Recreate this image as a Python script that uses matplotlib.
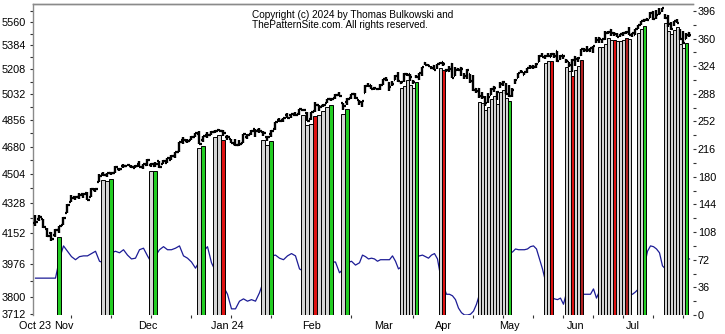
import numpy as np
import pandas as pd
import matplotlib
matplotlib.use('Agg')
import matplotlib.pyplot as plt
from matplotlib.ticker import FixedLocator, NullFormatter, StrMethodFormatter

plt.rcParams['font.family'] = ['Liberation Sans', 'DejaVu Sans']

# trading calendar, Oct 23 2023 .. Jul 29 2024
holidays = ['2023-11-23', '2023-12-25', '2024-01-01', '2024-01-15', '2024-02-19',
            '2024-03-29', '2024-05-27', '2024-06-19', '2024-07-04']
days = pd.bdate_range('2023-10-23', '2024-07-29', freq='C', holidays=holidays)

# daily OHLC
opens = [4210, 4235, 4232, 4175, 4153, 4140, 4172,
         4201, 4268, 4334, 4365, 4366, 4385, 4391, 4365, 4406, 4458, 4505, 4497, 4510, 4511, 4539, 4554, 4555, 4555, 4546, 4571, 4548,
         4559, 4565, 4557, 4586, 4568, 4576, 4593, 4618, 4646, 4722, 4714, 4725, 4744, 4764, 4724, 4754, 4758, 4773, 4786, 4782,
         4745, 4726, 4697, 4690, 4703, 4741, 4759, 4793, 4791, 4772, 4739, 4760, 4796, 4853, 4856, 4888, 4886, 4888, 4892, 4925, 4899,
         4862, 4916, 4957, 4951, 4973, 4995, 5004, 5026, 4968, 4977, 5004, 5031, 4989, 4964, 5039, 5094, 5093, 5074, 5067, 5086,
         5098, 5131, 5110, 5109, 5132, 5164, 5111, 5134, 5174, 5176, 5124, 5154, 5140, 5182, 5254, 5242, 5219, 5228, 5226, 5248,
         5257, 5204, 5194, 5244, 5159, 5211, 5217, 5159, 5173, 5171, 5150, 5065, 5068, 5031, 5005, 4988, 5029, 5085, 5019, 5085, 5114, 5103,
         5030, 5049, 5123, 5142, 5188, 5168, 5190, 5225, 5233, 5221, 5264, 5310, 5303, 5305, 5298, 5319, 5340, 5282, 5315, 5278, 5259, 5244,
         5297, 5278, 5314, 5357, 5343, 5341, 5353, 5410, 5441, 5424, 5431, 5477, 5499, 5474, 5460, 5461, 5461, 5473, 5488,
         5471, 5461, 5507, 5537, 5573, 5584, 5591, 5635, 5591, 5638, 5644, 5610, 5608, 5544, 5544, 5566, 5506, 5428, 5434, 5477]
highs = [4256, 4259, 4233, 4183, 4156, 4177, 4195,
         4245, 4320, 4374, 4372, 4386, 4391, 4393, 4418, 4421, 4503, 4521, 4511, 4521, 4557, 4542, 4569, 4560, 4562, 4562, 4587, 4570,
         4599, 4575, 4578, 4590, 4591, 4609, 4623, 4643, 4709, 4739, 4726, 4749, 4769, 4779, 4748, 4772, 4784, 4785, 4793, 4788,
         4755, 4730, 4727, 4721, 4764, 4765, 4790, 4798, 4802, 4783, 4745, 4785, 4842, 4868, 4866, 4903, 4898, 4907, 4929, 4932, 4906,
         4906, 4975, 4958, 4964, 4999, 5001, 5031, 5049, 4970, 5002, 5033, 5039, 4994, 4984, 5094, 5112, 5098, 5081, 5077, 5105,
         5141, 5149, 5114, 5127, 5165, 5190, 5125, 5179, 5180, 5176, 5128, 5170, 5180, 5225, 5261, 5246, 5229, 5236, 5249, 5264,
         5263, 5208, 5229, 5256, 5223, 5219, 5225, 5178, 5211, 5175, 5168, 5076, 5077, 5046, 5019, 5038, 5076, 5089, 5057, 5114, 5123, 5110,
         5096, 5073, 5139, 5181, 5200, 5191, 5215, 5239, 5237, 5250, 5311, 5325, 5305, 5325, 5324, 5323, 5341, 5311, 5315, 5282, 5261, 5280,
         5302, 5298, 5355, 5362, 5376, 5365, 5376, 5447, 5442, 5432, 5488, 5490, 5505, 5484, 5479, 5472, 5483, 5490, 5524,
         5479, 5510, 5540, 5571, 5583, 5591, 5636, 5642, 5655, 5666, 5670, 5622, 5615, 5556, 5570, 5586, 5508, 5491, 5479, 5487]
lows = [4190, 4220, 4181, 4127, 4104, 4132, 4153,
        4197, 4268, 4334, 4347, 4355, 4360, 4344, 4362, 4393, 4458, 4495, 4488, 4500, 4510, 4526, 4546, 4553, 4546, 4540, 4547, 4538,
        4554, 4547, 4551, 4546, 4566, 4575, 4594, 4608, 4643, 4695, 4702, 4721, 4743, 4697, 4708, 4737, 4758, 4768, 4780, 4751,
        4722, 4700, 4682, 4682, 4700, 4730, 4757, 4740, 4768, 4748, 4715, 4740, 4786, 4844, 4844, 4865, 4869, 4881, 4887, 4917, 4845,
        4853, 4907, 4919, 4940, 4970, 4987, 4999, 5017, 4920, 4956, 4999, 4999, 4955, 4946, 5039, 5081, 5068, 5058, 5058, 5062,
        5095, 5127, 5057, 5091, 5128, 5117, 5100, 5114, 5161, 5123, 5105, 5148, 5131, 5161, 5240, 5229, 5216, 5203, 5209, 5246,
        5230, 5185, 5191, 5146, 5157, 5197, 5160, 5138, 5138, 5107, 5052, 5039, 5007, 4999, 4953, 4970, 5028, 5047, 4990, 5073, 5089, 5035,
        5013, 5011, 5101, 5142, 5178, 5165, 5183, 5209, 5211, 5214, 5263, 5297, 5284, 5299, 5297, 5287, 5257, 5278, 5280, 5250, 5222, 5191,
        5234, 5257, 5303, 5335, 5331, 5331, 5328, 5404, 5403, 5403, 5421, 5470, 5455, 5452, 5448, 5446, 5451, 5467, 5460,
        5446, 5458, 5507, 5533, 5562, 5565, 5587, 5572, 5583, 5614, 5637, 5584, 5523, 5497, 5529, 5551, 5424, 5390, 5434, 5444]
closes = [4217, 4248, 4186, 4137, 4117, 4167, 4194,
          4238, 4318, 4358, 4366, 4378, 4383, 4347, 4415, 4412, 4496, 4502, 4509, 4514, 4547, 4538, 4556, 4559, 4550, 4555, 4551, 4568,
          4595, 4569, 4567, 4549, 4586, 4604, 4622, 4644, 4707, 4720, 4719, 4741, 4768, 4698, 4746, 4755, 4775, 4782, 4783, 4770,
          4743, 4705, 4689, 4697, 4764, 4757, 4783, 4780, 4784, 4766, 4739, 4781, 4840, 4850, 4865, 4869, 4894, 4891, 4928, 4925, 4846,
          4906, 4959, 4943, 4954, 4995, 4998, 5027, 5022, 4953, 5001, 5030, 5006, 4976, 4982, 5087, 5089, 5070, 5078, 5069, 5096,
          5137, 5131, 5079, 5105, 5157, 5124, 5117, 5175, 5165, 5150, 5117, 5149, 5179, 5225, 5241, 5234, 5218, 5204, 5248, 5254,
          5243, 5205, 5211, 5147, 5204, 5202, 5209, 5161, 5200, 5123, 5061, 5051, 5022, 5011, 4967, 5011, 5071, 5072, 5048, 5100, 5116, 5036,
          5018, 5064, 5128, 5181, 5187, 5188, 5214, 5223, 5221, 5247, 5308, 5297, 5303, 5308, 5321, 5307, 5268, 5305, 5306, 5267, 5236, 5278,
          5283, 5291, 5354, 5352, 5347, 5361, 5375, 5421, 5434, 5431, 5473, 5487, 5473, 5465, 5448, 5469, 5478, 5483, 5460,
          5475, 5509, 5537, 5567, 5572, 5577, 5633, 5585, 5615, 5631, 5667, 5589, 5545, 5505, 5564, 5555, 5427, 5399, 5459, 5464]

# indicator line (right scale)
indicator = [48, 48, 48, 48, 48, 48, 73, 90, 83, 76, 72, 76, 77, 77, 80, 83, 70, 68, 73, 81,
             83, 81, 85, 78, 73, 74, 85, 87, 77, 68, 77, 85, 89, 85, 85, 87, 90, 77, 74, 69,
             61, 70, 83, 89, 68, 57, 44, 37, 27, 8, 8, 18, 21, 18, 20, 18, 29, 44, 64, 77,
             78, 74, 72, 77, 80, 77, 60, 57, 55, 60, 63, 65, 67, 68, 69, 69, 55, 60, 68, 70,
             65, 68, 78, 76, 73, 74, 73, 70, 72, 72, 72, 72, 77, 70, 60, 63, 65, 68, 70, 73,
             76, 77, 78, 76, 74, 78, 80, 73, 51, 38, 27, 27, 25, 20, 9, 3, 0, 0, 1, 5,
             14, 27, 38, 44, 51, 57, 63, 68, 73, 77, 80, 81, 82, 86, 85, 85, 85, 86, 89, 90,
             86, 73, 60, 44, 31, 23, 21, 20, 22, 14, 29, 29, 28, 28, 27, 27, 27, 27, 27, 34,
             22, 31, 38, 36, 34, 32, 31, 30, 29, 28, 28, 27, 27, 30, 34, 44, 64, 83, 90, 89,
             86, 81, 64, 60, 58, 56, 58, 62, 66, 70, 72, 73]

# highlighted days: n = neutral, g = green, r = red, d = dark red
mark_dates = ['2023-10-31',
              '2023-11-15', '2023-11-16', '2023-11-17',
              '2023-12-04', '2023-12-05',
              '2023-12-20', '2023-12-21',
              '2023-12-27', '2023-12-28', '2023-12-29',
              '2024-01-16', '2024-01-17', '2024-01-18',
              '2024-01-30', '2024-01-31', '2024-02-01', '2024-02-02', '2024-02-05', '2024-02-06', '2024-02-07', '2024-02-08',
              '2024-02-13', '2024-02-14',
              '2024-03-11', '2024-03-12', '2024-03-13', '2024-03-14', '2024-03-15', '2024-03-18',
              '2024-03-28', '2024-04-01',
              '2024-04-17', '2024-04-18', '2024-04-19', '2024-04-22', '2024-04-23', '2024-04-24', '2024-04-25',
              '2024-04-26', '2024-04-29', '2024-04-30', '2024-05-01',
              '2024-05-17', '2024-05-20', '2024-05-21',
              '2024-05-29', '2024-05-30', '2024-05-31', '2024-06-03', '2024-06-04', '2024-06-05',
              '2024-06-13', '2024-06-14', '2024-06-17', '2024-06-18', '2024-06-20', '2024-06-21', '2024-06-24',
              '2024-06-25', '2024-06-26', '2024-06-27', '2024-06-28',
              '2024-07-03', '2024-07-05', '2024-07-08',
              '2024-07-17', '2024-07-18', '2024-07-19', '2024-07-22', '2024-07-23', '2024-07-24', '2024-07-25', '2024-07-26']
mark_kind = ['g',
             'n', 'n', 'g',
             'n', 'g',
             'n', 'g',
             'n', 'n', 'r',
             'n', 'n', 'g',
             'n', 'n', 'n', 'r', 'n', 'n', 'n', 'g',
             'n', 'g',
             'n', 'n', 'n', 'n', 'n', 'g',
             'n', 'r',
             'n', 'n', 'n', 'n', 'n', 'n', 'n', 'n', 'n', 'n', 'g',
             'n', 'n', 'r',
             'n', 'n', 'r', 'n', 'n', 'd',
             'n', 'n', 'n', 'n', 'n', 'r', 'n', 'n', 'n', 'd', 'n',
             'n', 'n', 'g',
             'n', 'n', 'n', 'n', 'n', 'n', 'n', 'g']
kind_colors = {'n': '#d4d4d4', 'g': '#22cc22', 'r': '#dd1111', 'd': '#b22222'}

x = np.arange(len(days))
lows_a = np.array(lows, float)


# 4 px per session up to Feb 20, 3 px per session afterwards
def fwd(i):
    i = np.asarray(i, float)
    return 3 * i + np.minimum(i, 81)


def inv(v):
    v = np.asarray(v, float)
    return np.where(v <= 324, v / 4, 81 + (v - 324) / 3)


fig = plt.figure(figsize=(7.25, 3.34), dpi=100)
ax = fig.add_axes([33 / 725, 19 / 334, 660 / 725, 311 / 334])
ax2 = ax.twinx()
ax.set_zorder(ax2.get_zorder() + 1)
ax.patch.set_visible(False)

ax.set_xscale('function', functions=(fwd, inv))
ax.set_yscale('log')
ax.set_xlim(-0.625, 192.17)
ax.set_ylim(3707, 5700)
ax2.set_ylim(0, 405)

# indicator behind everything
ax2.plot(x, indicator, color='#1c1c96', lw=0.9, zorder=1)

# highlight columns, top sits just under the day's low
idx = [days.get_loc(pd.Timestamp(d)) for d in mark_dates]
tops = lows_a[idx] * 0.9945
ax.bar(idx, tops - 3707, bottom=3707, width=1.0,
       color=[kind_colors[k] for k in mark_kind], edgecolor='black', lw=0.7, zorder=2)

# OHLC bars
ax.vlines(x, lows, highs, color='black', lw=1.7, zorder=3)
ax.hlines(opens, x - 0.55, x, color='black', lw=1.6, zorder=3)
ax.hlines(closes, x, x + 0.55, color='black', lw=1.6, zorder=3)

# left price scale
left_major = [3712, 3800, 3976, 4152, 4328, 4504, 4680, 4856, 5032, 5208, 5384, 5560]
left_minor = [3888, 4064, 4240, 4416, 4592, 4768, 4944, 5120, 5296, 5472, 5648]
ax.yaxis.set_major_locator(FixedLocator(left_major))
ax.yaxis.set_minor_locator(FixedLocator(left_minor))
ax.yaxis.set_major_formatter(StrMethodFormatter('{x:.0f}'))
ax.yaxis.set_minor_formatter(NullFormatter())

# right indicator scale
ax2.yaxis.set_major_locator(FixedLocator(range(0, 397, 36)))
ax2.yaxis.set_minor_locator(FixedLocator(range(18, 400, 36)))

# month labels at the first session of each month
lab_pos = [0]
lab_txt = ['Oct 23']
for i in range(1, len(days)):
    if days[i].month != days[i - 1].month:
        lab_pos.append(i)
        lab_txt.append(days[i].strftime('%b') + (' 24' if days[i].month == 1 else ''))
ax.xaxis.set_major_locator(FixedLocator(lab_pos))
ax.set_xticklabels(lab_txt)
ax.xaxis.set_minor_locator(FixedLocator(np.arange(9, len(days) + 2, 10)))

for a in (ax, ax2):
    for s in ('bottom', 'right'):
        a.spines[s].set_visible(False)
    for s in ('left', 'top'):
        a.spines[s].set_color('#8a8a8a')
        a.spines[s].set_linewidth(1.0)
ax2.spines['left'].set_visible(False)

ax.tick_params(axis='y', which='both', length=2, width=0.8, pad=3.2, labelsize=7.8, color='#333333')
ax2.tick_params(axis='y', which='both', length=2, width=0.8, pad=1.5, labelsize=7.8, color='#333333')
ax.tick_params(axis='x', which='major', length=0, pad=4, labelsize=7.8)
ax.tick_params(axis='x', which='minor', length=2, width=0.8, color='#333333')

fig.text(252 / 725, 1 - 10 / 334,
         'Copyright (c) 2024 by Thomas Bulkowski and\nThePatternSite.com. All rights reserved.',
         ha='left', va='top', fontsize=7.2, linespacing=1.0)

fig.savefig('out.png', dpi=100)
